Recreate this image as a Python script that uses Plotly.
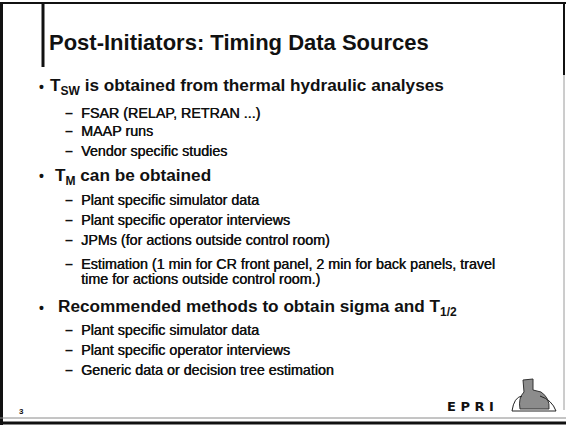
import plotly.graph_objects as go

# ---- slide content ----
title_text = "Post-Initiators: Timing Data Sources"
bullet_texts = [
    "T<sub>SW</sub> is obtained from thermal hydraulic analyses",
    "T<sub>M</sub> can be obtained",
    "Recommended methods to obtain sigma and T<sub>1/2</sub>",
]
sub_items = [
    ["FSAR (RELAP, RETRAN ...)", "MAAP runs", "Vendor specific studies"],
    ["Plant specific simulator data",
     "Plant specific operator interviews",
     "JPMs (for actions outside control room)",
     "Estimation (1 min for CR front panel, 2 min for back panels, travel<br>time for actions outside control room.)"],
    ["Plant specific simulator data",
     "Plant specific operator interviews",
     "Generic data or decision tree estimation"],
]
page_number = "3"
logo_text = "E P R I"

# ---- layout (pixel positions) ----
W, H = 566, 428
bullet_x = [49, 54, 57]
bullet_y = [86.5, 176, 307.5]
sub_y = [[112.5, 131, 151], [200, 220, 240, 263.5], [330, 350, 370]]
sub_line_gap = 15.5
TXT = "#111111"
FONT = "Liberation Sans, Arial, sans-serif"

fig = go.Figure()
annots = []

def add_text(x, y, text, size, bold=False, color=TXT, family=FONT, anchor="left", shadow=None):
    f = dict(family=family, size=size, color=color)
    if shadow:
        f["shadow"] = shadow
    annots.append(dict(
        x=x, y=y, xref="x", yref="y", text=(f"<b>{text}</b>" if bold else text),
        showarrow=False, xanchor=anchor, yanchor="middle",
        font=f, borderpad=0,
    ))

add_text(48, 42.5, title_text, 22, bold=True)

for i, bt in enumerate(bullet_texts):
    add_text(38, bullet_y[i], "•", 14, bold=True)
    add_text(bullet_x[i], bullet_y[i], bt, 17.2, bold=True)
    for j, item in enumerate(sub_items[i]):
        y0 = sub_y[i][j]
        add_text(64, y0, "–", 14.3, bold=True)
        for k, line in enumerate(item.split("<br>")):
            add_text(80, y0 + k * sub_line_gap, line, 14.3, shadow="0.4px 0px 0px #111111")

add_text(18, 411, page_number, 8, bold=True)
add_text(446, 406, logo_text, 13, bold=True, family="DejaVu Sans, sans-serif")

fig.update_layout(annotations=annots)

shapes = []
def line(x0, y0, x1, y1, w, c="#111111"):
    shapes.append(dict(type="line", xref="x", yref="y", x0=x0, y0=y0, x1=x1, y1=y1,
                       line=dict(color=c, width=w)))

# frame
line(1.5, 2, 1.5, 425, 3)
line(0, 3, 566, 3, 2)
line(43, 3, 43, 67, 3)
line(564, 3, 564, 75, 2)
line(564, 75, 564, 410, 1, "#9a9a9a")
line(0, 418, 566, 418, 1, "#8a8a8a")
line(0, 423, 566, 423, 3)

# logo figure (approximate)
shapes.append(dict(type="path", xref="x", yref="y",
                   path="M 523 380 L 533 379 L 533 390 L 541 392 Q 550 398 549 409 L 520 409 Q 518 398 524 392 Z",
                   fillcolor="#8c8c8c", line=dict(color="#333333", width=1)))
shapes.append(dict(type="path", xref="x", yref="y",
                   path="M 512 411 Q 514 397 522 396 M 540 396 Q 552 400 556 411 L 512 411",
                   line=dict(color="#222222", width=1)))
fig.update_layout(shapes=shapes)

fig.update_layout(
    width=W, height=H, margin=dict(l=0, r=0, t=0, b=0),
    paper_bgcolor="white", plot_bgcolor="white", showlegend=False,
    xaxis=dict(range=[0, W], visible=False, fixedrange=True),
    yaxis=dict(range=[H, 0], visible=False, fixedrange=True),
)
fig.write_html("out.html", config={"displayModeBar": False},
               post_script="document.body.style.margin='0px';document.body.style.overflow='hidden';")
